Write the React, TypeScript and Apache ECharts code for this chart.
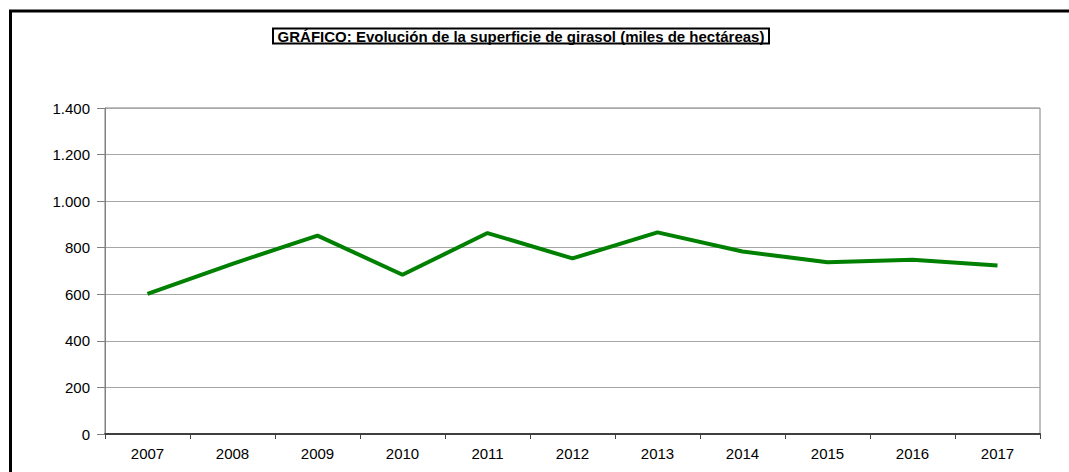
import React, { useEffect, useRef } from "react";
import * as echarts from "echarts";

const years = ["2007", "2008", "2009", "2010", "2011", "2012", "2013", "2014", "2015", "2016", "2017"];
const superficie = [602, 731, 852, 684, 863, 754, 866, 784, 738, 748, 724];
const titleText = "GRÁFICO: Evolución de la superficie de girasol (miles de hectáreas)";

const fmt = (v: number) => String(v).replace(/\B(?=(\d{3})+(?!\d))/g, ".");

export default function App() {
  const ref = useRef<HTMLDivElement>(null);
  useEffect(() => {
    document.body.style.margin = "0";
    const chart = echarts.init(ref.current!, null, { renderer: "svg" });
    const font = "'Liberation Sans', Arial, sans-serif";
    chart.setOption({
      animation: false,
      backgroundColor: "#ffffff",
      textStyle: { fontFamily: font },
      graphic: [
        {
          type: "rect",
          shape: { x: 10.5, y: 11, width: 1200, height: 600 },
          style: { fill: "none", stroke: "#000", lineWidth: 3 },
          z: 10,
        },
        {
          type: "rect",
          shape: { x: 273, y: 28.5, width: 496, height: 15 },
          style: { fill: "#fff", stroke: "#000", lineWidth: 2 },
          z: 10,
        },
        {
          type: "text",
          x: 521,
          y: 36.5,
          style: {
            text: titleText,
            font: "bold 15px " + font,
            fill: "#000",
            align: "center",
            verticalAlign: "middle",
          },
          z: 11,
        },
      ],
      grid: {
        left: 105,
        right: 29,
        top: 108,
        bottom: 38,
        show: true,
        borderColor: "#808080",
        borderWidth: 1,
      },
      xAxis: {
        type: "category",
        data: years,
        boundaryGap: true,
        axisLine: { show: true, lineStyle: { color: "#404040", width: 2 } },
        axisTick: { show: true, length: 5, lineStyle: { color: "#404040" } },
        axisLabel: { color: "#000", fontSize: 15, margin: 12, fontFamily: font },
        splitLine: { show: false },
      },
      yAxis: {
        type: "value",
        min: 0,
        max: 1400,
        interval: 200,
        axisLine: { show: true, lineStyle: { color: "#808080", width: 1 } },
        axisTick: { show: true, length: 8, lineStyle: { color: "#808080" } },
        axisLabel: {
          color: "#000",
          fontSize: 15,
          margin: 15,
          fontFamily: font,
          formatter: (v: number) => fmt(v),
        },
        splitLine: { show: true, lineStyle: { color: "#a6a6a6", width: 1 } },
      },
      series: [
        {
          type: "line",
          data: superficie,
          showSymbol: false,
          symbol: "none",
          lineStyle: { color: "#008000", width: 4 },
          itemStyle: { color: "#008000" },
        },
      ],
    });
    return () => chart.dispose();
  }, []);
  return (
    <div
      ref={ref}
      style={{ position: "absolute", left: 0, top: 0, width: 1069, height: 472 }}
    />
  );
}
